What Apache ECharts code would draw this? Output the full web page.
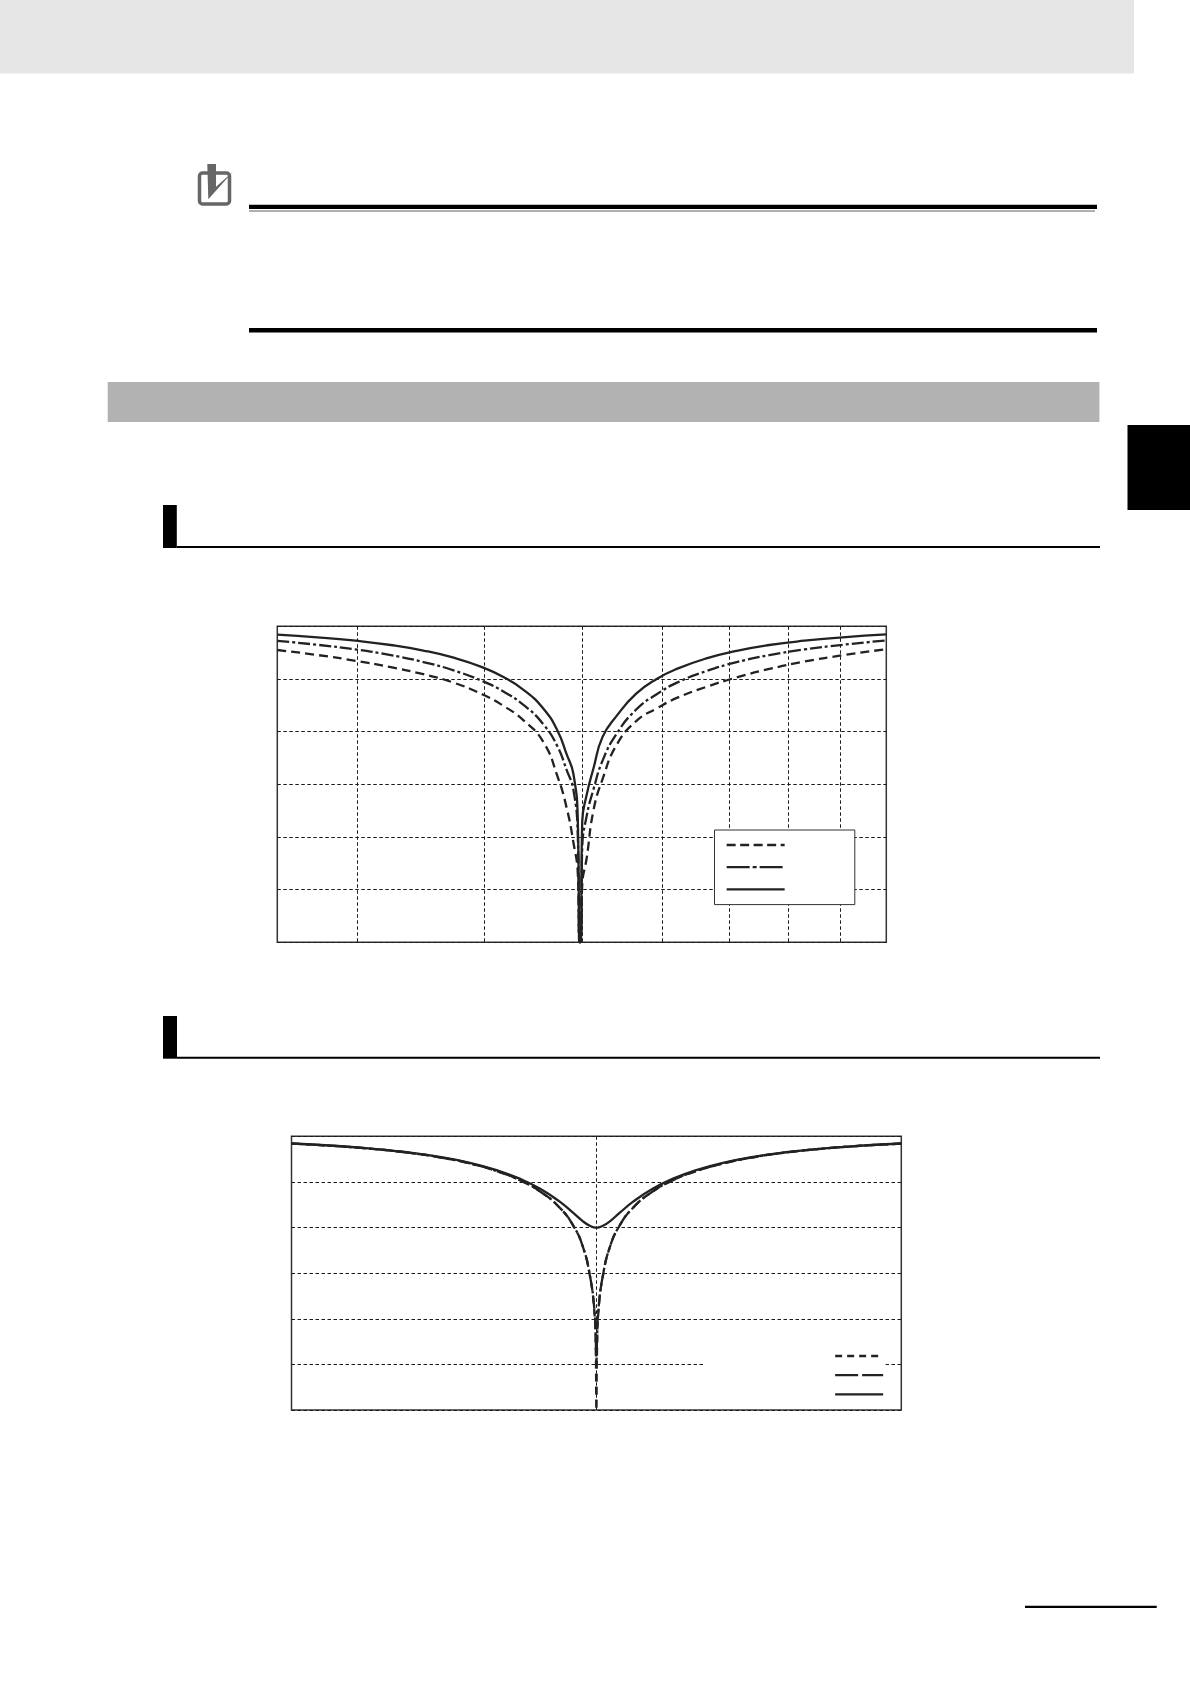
<!DOCTYPE html>
<html><head><meta charset="utf-8">
<style>html,body{margin:0;padding:0;background:#fff}#c{width:1190px;height:1684px}</style>
<script src="https://cdn.jsdelivr.net/npm/echarts@6/dist/echarts.min.js"></script>
</head><body><div id="c"></div>
<script>
const gridFreqs1 = [300,400,500,600,700,800,900];
const gridFreqs2 = [500];
const freqs1 = [250,273.9,298.8,323.7,348.6,373.5,398.4,418.3,438.2,458.2,473.1,483.1,490.5,495.5,497.3,498,498.7,500.5,505.6,513.4,524.2,541.3,565.9,592.9,622.5,664,711.4,766.2,830,905.5,1000];
const solid1 = [-1.60,-2.10,-2.74,-3.55,-4.60,-5.96,-7.74,-9.62,-12.11,-15.66,-19.82,-24.32,-28,-37,-60,-60,-60,-37,-32,-27,-21,-17,-12.8,-10,-8,-6.1,-4.65,-3.55,-2.74,-2.10,-1.55];
const dashDot1 = [-2.76,-3.51,-4.40,-5.48,-6.78,-8.38,-10.37,-12.39,-14.98,-18.62,-22.81,-27.32,-31,-40,-60,-60,-60,-42,-36,-31,-25.5,-20.4,-15.8,-12.9,-10.6,-8.5,-6.8,-5.48,-4.40,-3.51,-2.68];
const dashed1 = [-4.50,-5.45,-6.55,-7.75,-9.10,-10.70,-12.90,-15.10,-17.90,-22,-28.5,-34.5,-41,-47,-60,-60,-60,-49,-44,-35,-29,-22.5,-18,-15.6,-13.5,-11.5,-9.7,-8.1,-6.7,-5.5,-4.34];
const freqs2 = [250,275,300,325,350,375,400,420,440,460,475,485,492.5,497.5,499.2,500,500.8,502.5,507.6,515.5,526.3,543.5,568.2,595.2,625,666.7,714.3,769.2,833.3,909.1,1000];
const solid2 = [-1.58,-2.07,-2.70,-3.50,-4.52,-5.83,-7.53,-9.28,-11.50,-14.33,-16.92,-18.65,-19.62,-19.96,-20,-20,-20,-19.96,-19.62,-18.65,-16.92,-14.33,-11.50,-9.28,-7.53,-5.83,-4.52,-3.50,-2.70,-2.07,-1.58];
const dashDot2 = [-1.60,-2.10,-2.74,-3.55,-4.60,-5.96,-7.74,-9.62,-12.11,-15.65,-19.80,-24.28,-30.36,-37.5,-44,-50,-44,-37.5,-30.36,-24.28,-19.80,-15.65,-12.11,-9.62,-7.74,-5.96,-4.60,-3.55,-2.74,-2.10,-1.60];
const dashed2 = [-1.60,-2.10,-2.74,-3.55,-4.60,-5.96,-7.74,-9.62,-12.11,-15.66,-19.82,-24.31,-30.40,-38,-46,-60,-46,-38,-30.40,-24.31,-19.82,-15.66,-12.11,-9.62,-7.74,-5.96,-4.60,-3.55,-2.74,-2.10,-1.60];

const pair = (xs, ys) => xs.map((x, i) => [x, ys[i]]);
const ink = '#222';
const gridLine = { show: true, lineStyle: { color: '#1a1a1a', width: 1, type: [3.5, 2.5] } };
function xAxis(gridIndex, ticks) {
  return { type: 'log', logBase: 10, gridIndex, min: 250, max: 1000,
    axisLine: { show: false }, axisLabel: { show: false },
    axisTick: { show: false, customValues: ticks }, splitLine: gridLine, minorTick: { show: false }, minorSplitLine: { show: false } };
}
function yAxis(gridIndex) {
  return { type: 'value', gridIndex, min: -60, max: 0, interval: 10,
    axisLine: { show: false }, axisLabel: { show: false }, axisTick: { show: false }, splitLine: gridLine };
}
function curve(name, idx, xs, ys, dash, z) {
  return { type: 'line', name, xAxisIndex: idx, yAxisIndex: idx, data: pair(xs, ys), showSymbol: false, symbol: 'none',
    smooth: 0.5, z, clip: true, animation: false,
    lineStyle: { color: ink, width: 2.3, type: dash } };
}
function bar(x, y, w, h, fill) {
  return { type: 'rect', shape: { x, y, width: w, height: h }, style: { fill }, silent: true };
}
const legendLine = (name, type) => ({ name, itemStyle: { color: 'transparent', borderColor: 'transparent', opacity: 0 }, lineStyle: { color: ink, width: 2.3, type } });

const option = {
  animation: false,
  backgroundColor: '#fff',
  grid: [
    { left: 277.3, top: 626.3, width: 609, height: 316, show: true, borderColor: '#333', borderWidth: 1.5, backgroundColor: 'transparent' },
    { left: 291.5, top: 1136.3, width: 609.8, height: 273.7, show: true, borderColor: '#333', borderWidth: 1.5, backgroundColor: 'transparent' }
  ],
  xAxis: [xAxis(0, gridFreqs1), xAxis(1, gridFreqs2)],
  yAxis: [yAxis(0), yAxis(1)],
  legend: [
    { left: 714.5, top: 830, orient: 'vertical', itemWidth: 58, itemHeight: 8, itemGap: 15, padding: [11, 69, 12, 11],
      backgroundColor: '#fff', borderColor: '#333', borderWidth: 1, formatter: () => '', selectedMode: false,
      data: [legendLine('A dashed', [9, 4.5]), legendLine('A dash-dot', [23, 3, 4, 3]), legendLine('A solid', 'solid')] },
    { left: 704, top: 1346, orient: 'vertical', itemWidth: 48, itemHeight: 8, itemGap: 12, padding: [6, 1, 8, 130],
      backgroundColor: '#fff', borderWidth: 0, formatter: () => '', selectedMode: false,
      data: [legendLine('B dashed', [7, 5]), legendLine('B dash-dot', [23, 4, 21, 0]), legendLine('B solid', 'solid')] }
  ],
  series: [
    curve('A dashed', 0, freqs1, dashed1, [9, 5], 3),
    curve('A dash-dot', 0, freqs1, dashDot1, [12, 3, 3, 3], 4),
    curve('A solid', 0, freqs1, solid1, 'solid', 5),
    curve('B dashed', 1, freqs2, dashed2, [8, 5], 3),
    curve('B dash-dot', 1, freqs2, dashDot2, [12, 3, 3, 3], 4),
    curve('B solid', 1, freqs2, solid2, 'solid', 5)
  ],
  graphic: [
    bar(0, 0, 1134, 73.5, '#e6e6e6'),
    bar(249, 204.8, 848, 4.2, '#000'),
    bar(249, 210, 846, 2, '#b0b0b0'),
    bar(249, 328, 848, 4.5, '#000'),
    bar(107.7, 382, 991.7, 40, '#b2b2b2'),
    bar(1127.5, 425, 62.5, 85, '#000'),
    bar(163, 505, 13.8, 43, '#000'),
    bar(176.8, 546, 923.2, 2, '#000'),
    bar(163, 1016, 14, 42.7, '#000'),
    bar(177, 1056.7, 923, 2, '#000'),
    bar(1025, 1605.7, 131.7, 2.3, '#000'),
    { type: 'rect', shape: { x: 199.5, y: 173, width: 30, height: 31, r: 3 }, style: { fill: 'transparent', stroke: '#666', lineWidth: 3.5 }, silent: true },
    { type: 'polygon', shape: { points: [[207.3,164],[216,164],[216,186.7],[233,171.7],[208.3,199.3]] }, style: { fill: '#666' }, silent: true }
  ]
};
echarts.init(document.getElementById('c'), null, { renderer: 'canvas' }).setOption(option);
</script></body></html>
